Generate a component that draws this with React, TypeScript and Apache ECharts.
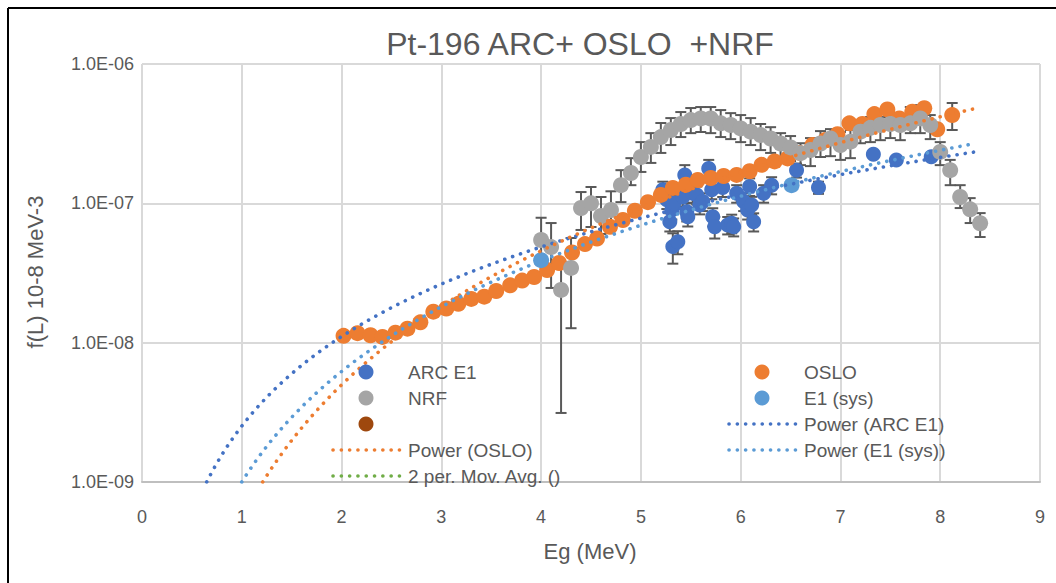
import React, { useEffect, useRef } from "react";
import * as echarts from "echarts";

const TITLE = "Pt-196 ARC+ OSLO  +NRF";
const X_NAME = "Eg (MeV)";
const Y_NAME = "f(L) 10-8 MeV-3";
const Y_TICK_LABELS = ["1.0E-09", "1.0E-08", "1.0E-07", "1.0E-06"];
const Y_MIN = 1e-9;
const Y_MAX = 1e-6;

// OSLO
const osloE = [2.02, 2.16, 2.29, 2.41, 2.54, 2.66, 2.79, 2.92, 3.05, 3.17, 3.30, 3.43, 3.55, 3.69, 3.81, 3.93, 4.06, 4.18, 4.31, 4.44, 4.56, 4.69, 4.82, 4.94, 5.07, 5.20, 5.32, 5.45, 5.57, 5.70, 5.83, 5.96, 6.09, 6.21, 6.34, 6.47, 6.59, 6.72, 6.85, 6.97, 7.09, 7.22, 7.34, 7.47, 7.59, 7.72, 7.84, 7.97, 8.12];
const osloF = [1.12e-8, 1.17e-8, 1.13e-8, 1.10e-8, 1.18e-8, 1.26e-8, 1.40e-8, 1.67e-8, 1.76e-8, 1.90e-8, 2.06e-8, 2.14e-8, 2.35e-8, 2.58e-8, 2.79e-8, 2.96e-8, 3.32e-8, 3.73e-8, 4.44e-8, 5.10e-8, 5.59e-8, 6.79e-8, 7.59e-8, 8.85e-8, 1.02e-7, 1.15e-7, 1.29e-7, 1.36e-7, 1.47e-7, 1.52e-7, 1.57e-7, 1.60e-7, 1.70e-7, 1.89e-7, 2.00e-7, 2.10e-7, 2.30e-7, 2.62e-7, 2.85e-7, 3.13e-7, 3.75e-7, 3.71e-7, 4.37e-7, 4.72e-7, 4.07e-7, 4.54e-7, 4.81e-7, 3.40e-7, 4.30e-7];
const osloBarE = [8.12];
const osloBarLow = [3.36e-7];
const osloBarHigh = [5.25e-7];

// NRF
const nrfE = [4.0, 4.1, 4.2, 4.3, 4.4, 4.5, 4.6, 4.7, 4.8, 4.9, 5.0, 5.1, 5.2, 5.3, 5.4, 5.5, 5.6, 5.7, 5.8, 5.9, 6.0, 6.1, 6.2, 6.3, 6.4, 6.5, 6.6, 6.7, 6.8, 6.9, 7.0, 7.1, 7.2, 7.3, 7.4, 7.5, 7.6, 7.7, 7.8, 7.9, 8.0, 8.1, 8.2, 8.3, 8.4];
const nrfF = [5.46e-8, 4.85e-8, 2.39e-8, 3.44e-8, 9.25e-8, 1.00e-7, 8.11e-8, 8.95e-8, 1.35e-7, 1.65e-7, 2.15e-7, 2.54e-7, 2.99e-7, 3.36e-7, 3.71e-7, 3.96e-7, 4.07e-7, 4.06e-7, 3.75e-7, 3.65e-7, 3.45e-7, 3.27e-7, 3.09e-7, 2.92e-7, 2.69e-7, 2.52e-7, 2.29e-7, 2.41e-7, 2.69e-7, 2.92e-7, 2.62e-7, 2.77e-7, 3.27e-7, 3.48e-7, 3.65e-7, 3.71e-7, 3.65e-7, 3.75e-7, 4.07e-7, 3.65e-7, 2.34e-7, 1.73e-7, 1.11e-7, 9.06e-8, 7.19e-8];
const nrfHigh = [7.88e-8, 7.22e-8, 3.79e-8, 5.64e-8, 1.205e-7, 1.31e-7, 1.11e-7, 1.22e-7, 1.73e-7, 2.11e-7, 2.75e-7, 3.19e-7, 3.77e-7, 4.09e-7, 4.52e-7, 4.83e-7, 4.91e-7, 4.91e-7, 4.67e-7, 4.44e-7, 4.30e-7, 4.09e-7, 3.71e-7, 3.52e-7, 3.19e-7, 3.04e-7, 2.70e-7, 2.94e-7, 3.30e-7, 3.41e-7, 3.25e-7, 3.36e-7, 3.83e-7, 4.16e-7, 4.16e-7, 4.44e-7, 4.30e-7, 4.91e-7, 5.07e-7, 4.30e-7, 2.75e-7, 2.05e-7, 1.35e-7, 1.09e-7, 8.51e-8];
const nrfLow = [3.21e-8, 2.47e-8, 3.13e-9, 1.27e-8, 6.44e-8, 6.76e-8, 6.03e-8, 6.44e-8, 1.02e-7, 1.35e-7, 1.68e-7, 1.95e-7, 2.30e-7, 2.62e-7, 2.99e-7, 3.19e-7, 3.25e-7, 3.19e-7, 2.99e-7, 2.89e-7, 2.75e-7, 2.62e-7, 2.41e-7, 2.30e-7, 2.15e-7, 2.01e-7, 1.88e-7, 1.85e-7, 2.15e-7, 2.18e-7, 2.05e-7, 2.11e-7, 2.70e-7, 2.75e-7, 2.84e-7, 2.94e-7, 2.84e-7, 3.19e-7, 3.19e-7, 2.89e-7, 1.88e-7, 1.35e-7, 9.25e-8, 7.22e-8, 5.73e-8];

// ARC E1
const arcE = [5.22, 5.26, 5.29, 5.31, 5.32, 5.33, 5.37, 5.42, 5.44, 5.46, 5.47, 5.52, 5.56, 5.59, 5.62, 5.68, 5.71, 5.72, 5.74, 5.82, 5.87, 5.91, 5.93, 5.96, 6.03, 6.07, 6.09, 6.11, 6.13, 6.23, 6.31, 6.56, 6.78, 7.33, 7.56, 7.91];
const arcF = [1.25e-7, 1.06e-7, 7.38e-8, 8.95e-8, 4.89e-8, 1.00e-7, 5.31e-8, 1.11e-7, 1.60e-7, 8.71e-8, 8.02e-8, 1.18e-7, 1.15e-7, 9.73e-8, 1.03e-7, 1.78e-7, 1.25e-7, 8.02e-8, 6.79e-8, 1.30e-7, 6.98e-8, 7.19e-8, 6.79e-8, 1.18e-7, 1.03e-7, 8.95e-8, 1.32e-7, 9.73e-8, 7.38e-8, 1.18e-7, 1.35e-7, 1.73e-7, 1.30e-7, 2.25e-7, 2.05e-7, 2.16e-7];
const arcErr = [1.8e-8, 1.5e-8, 1.1e-8, 1.3e-8, 1.2e-8, 1.5e-8, 1.0e-8, 1.6e-8, 2.8e-8, 1.3e-8, 1.2e-8, 1.7e-8, 1.7e-8, 1.4e-8, 1.5e-8, 2.7e-8, 1.8e-8, 1.2e-8, 1.2e-8, 1.9e-8, 1.0e-8, 1.1e-8, 1.0e-8, 1.7e-8, 1.5e-8, 1.3e-8, 1.9e-8, 1.4e-8, 1.1e-8, 1.7e-8, 1.9e-8, 2.0e-8, 1.3e-8, 0, 0, 0];

// E1 (sys)
const e1sysE = [4.0, 6.51];
const e1sysF = [3.91e-8, 1.35e-7];

// Power trendlines y = a * x^b, drawn up to xEnd
const trendNames = ["Power (ARC E1)", "Power (OSLO)", "Power (E1 (sys))"];
const trendA = [2.52e-9, 5.44e-10, 1.0e-9];
const trendB = [2.135, 3.195, 2.636];
const trendEnd = [8.37, 8.37, 8.33];

const C_ARC = "#4472C4";
const C_OSLO = "#ED7D31";
const C_NRF = "#A5A5A5";
const C_SYS = "#5B9BD5";
const C_BROWN = "#9E480E";
const C_GREEN = "#70AD47";
const C_TEXT = "#595959";
const C_BAR = "#595959";
const FONT = "'Liberation Sans', Arial, sans-serif";

function powerCurve(a: number, b: number, xEnd: number) {
  const x0 = Math.pow(Y_MIN / a, 1 / b);
  const pts: number[][] = [];
  const n = 200;
  for (let i = 0; i <= n; i++) {
    const x = x0 + ((xEnd - x0) * i) / n;
    pts.push([x, a * Math.pow(x, b)]);
  }
  return pts;
}

function errSeries(data: number[][]) {
  return {
    type: "custom",
    clip: true,
    silent: true,
    encode: { x: 0, y: [1, 2] },
    data,
    renderItem: (_p: any, api: any) => {
      const x = api.value(0);
      const lo = api.value(1);
      const hi = api.value(2);
      const a = api.coord([x, lo]);
      const b = api.coord([x, hi]);
      const hw = 5.5;
      const st = { stroke: C_BAR, lineWidth: 2 };
      return {
        type: "group",
        children: [
          { type: "line", shape: { x1: a[0], y1: a[1], x2: b[0], y2: b[1] }, style: st },
          { type: "line", shape: { x1: a[0] - hw, y1: a[1], x2: a[0] + hw, y2: a[1] }, style: st },
          { type: "line", shape: { x1: b[0] - hw, y1: b[1], x2: b[0] + hw, y2: b[1] }, style: st },
        ],
      };
    },
  };
}

const DOT_DASH = [0.1, 8.2];

export default function App() {
  const ref = useRef<HTMLDivElement>(null);
  useEffect(() => {
    if (!ref.current) return;
    const chart = echarts.init(ref.current, undefined, { renderer: "svg" });

    const arcErrData = arcE
      .map((e, i) => [e, arcF[i] - arcErr[i], arcF[i] + arcErr[i]])
      .filter((_d, i) => arcErr[i] > 0);
    const nrfErrData = nrfE.map((e, i) => [e, nrfLow[i], nrfHigh[i]]);
    const osloErrData = osloBarE.map((e, i) => [e, osloBarLow[i], osloBarHigh[i]]);

    const scatter = (name: string, xs: number[], ys: number[], color: string, size: number) => ({
      name,
      type: "scatter",
      symbol: "circle",
      symbolSize: size,
      itemStyle: { color, opacity: 1 },
      data: xs.map((x, i) => [x, ys[i]]),
      silent: true,
    });

    const trendColors = [C_ARC, C_OSLO, C_SYS];
    const trends = trendNames.map((name, i) => ({
      name,
      type: "line",
      showSymbol: false,
      symbol: "none",
      silent: true,
      lineStyle: { color: trendColors[i], width: 3.6, type: DOT_DASH, cap: "round" },
      data: powerCurve(trendA[i], trendB[i], trendEnd[i]),
    }));

    const legendRowsLeft = [372, 398, 424, 450, 476];
    const legendRowsRight = [372, 398, 424, 450];
    const txt = (x: number, y: number, text: string, size = 19, extra: any = {}) => ({
      type: "text",
      x,
      y,
      z: 100,
      style: { text, fill: C_TEXT, font: `${size}px ${FONT}`, textVerticalAlign: "middle", ...extra },
    });
    const dot = (cx: number, cy: number, color: string) => ({
      type: "circle",
      z: 100,
      shape: { cx, cy, r: 7.5 },
      style: { fill: color },
    });
    const dline = (x1: number, x2: number, y: number, color: string) => ({
      type: "line",
      z: 100,
      shape: { x1, y1: y, x2, y2: y },
      style: { stroke: color, lineWidth: 3.6, lineDash: DOT_DASH, lineCap: "round" },
    });

    chart.setOption({
      animation: false,
      backgroundColor: "#ffffff",
      grid: { left: 142, top: 64, width: 898, height: 418, containLabel: false },
      xAxis: {
        type: "value",
        min: 0,
        max: 9,
        interval: 1,
        axisLine: { show: true, lineStyle: { color: "#bfbfbf", width: 2 } },
        axisTick: { show: false },
        splitLine: { show: true, lineStyle: { color: "#d9d9d9", width: 2 } },
        axisLabel: { color: C_TEXT, fontSize: 18, fontFamily: FONT, margin: 26 },
      },
      yAxis: {
        type: "log",
        logBase: 10,
        min: Y_MIN,
        max: Y_MAX,
        axisLine: { show: false },
        axisTick: { show: false },
        splitLine: { show: true, lineStyle: { color: "#d9d9d9", width: 2 } },
        axisLabel: {
          color: C_TEXT,
          fontSize: 18,
          fontFamily: FONT,
          margin: 8,
          formatter: (v: number) => Y_TICK_LABELS[Math.round(Math.log10(v)) + 9] ?? "",
        },
      },
      series: [
        errSeries(arcErrData),
        scatter("ARC E1", arcE, arcF, C_ARC, 15),
        errSeries(osloErrData),
        scatter("OSLO", osloE, osloF, C_OSLO, 16),
        errSeries(nrfErrData),
        scatter("NRF", nrfE, nrfF, C_NRF, 16),
        scatter("E1 (sys)", e1sysE, e1sysF, C_SYS, 16),
        ...trends,
      ],
      graphic: [
        { type: "line", shape: { x1: 8, y1: 8, x2: 1056, y2: 8 }, style: { stroke: "#000", lineWidth: 2 } },
        { type: "line", shape: { x1: 8, y1: 8, x2: 8, y2: 583 }, style: { stroke: "#000", lineWidth: 2 } },
        txt(580, 44, TITLE, 32, { textAlign: "center" }),
        {
          type: "text",
          x: 35,
          y: 272,
          rotation: Math.PI / 2,
          style: { text: Y_NAME, fill: C_TEXT, font: `22px ${FONT}`, textAlign: "center", textVerticalAlign: "middle" },
        },
        txt(590, 551, X_NAME, 22, { textAlign: "center" }),
        dot(366, legendRowsLeft[0], C_ARC),
        txt(408, legendRowsLeft[0], "ARC E1"),
        dot(366, legendRowsLeft[1], C_NRF),
        txt(408, legendRowsLeft[1], "NRF"),
        dot(366, legendRowsLeft[2], C_BROWN),
        dline(333, 400, legendRowsLeft[3], C_OSLO),
        txt(408, legendRowsLeft[3], "Power (OSLO)"),
        dline(333, 400, legendRowsLeft[4], C_GREEN),
        txt(408, legendRowsLeft[4], "2 per. Mov. Avg. ()"),
        dot(762, legendRowsRight[0], C_OSLO),
        txt(804, legendRowsRight[0], "OSLO"),
        dot(762, legendRowsRight[1], C_SYS),
        txt(804, legendRowsRight[1], "E1 (sys)"),
        dline(729, 796, legendRowsRight[2], C_ARC),
        txt(804, legendRowsRight[2], "Power (ARC E1)"),
        dline(729, 796, legendRowsRight[3], C_SYS),
        txt(804, legendRowsRight[3], "Power (E1 (sys))"),
      ],
    });
    return () => chart.dispose();
  }, []);
  return (
    <div
      ref={ref}
      style={{ position: "fixed", left: 0, top: 0, width: 1056, height: 583, background: "#fff" }}
    />
  );
}
